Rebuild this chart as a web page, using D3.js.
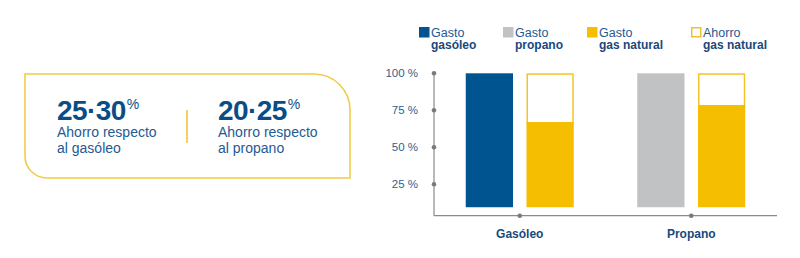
<!DOCTYPE html>
<html>
<head>
<meta charset="utf-8">
<script src="https://cdn.jsdelivr.net/npm/d3@7"></script>
<style>
  body { margin: 0; background: #fff; }
  svg { display: block; font-family: "Liberation Sans", Arial, sans-serif; }
</style>
</head>
<body>
<svg id="chart" width="800" height="258"></svg>
<script>
var categories = ['Gasóleo', 'Propano'];
var fuelCost   = [100, 100];      // gasto gasóleo / gasto propano
var gasCost    = [67, 78.5];      // gasto gas natural
var ticks      = [25, 50, 75, 100];
var savings    = ['25·30', '20·25'];
var savingsTxt = [['Ahorro respecto', 'al gasóleo'], ['Ahorro respecto', 'al propano']];
var legendItems = [
  { top: 'Gasto', bottom: 'gasóleo', kind: 'blue' },
  { top: 'Gasto', bottom: 'propano', kind: 'gray' },
  { top: 'Gasto', bottom: 'gas natural', kind: 'yellow' },
  { top: 'Ahorro', bottom: 'gas natural', kind: 'outline' }
];
var barFloor = 9.5;

var colors = { blue: '#00548f', gray: '#c1c2c4', yellow: '#f6be00', outline: '#fff' };
var textBlue = '#17497c';

var svg = d3.select('#chart');

/* --------- left panel --------- */
var bx = 25, by = 74, bw = 325, bh = 104, rTR = 36, rBL = 22;
svg.append('path')
  .attr('d', 'M' + bx + ',' + by +
    'H' + (bx + bw - rTR) +
    'A' + rTR + ',' + rTR + ' 0 0 1 ' + (bx + bw) + ',' + (by + rTR) +
    'V' + (by + bh) +
    'H' + (bx + rBL) +
    'A' + rBL + ',' + rBL + ' 0 0 1 ' + bx + ',' + (by + bh - rBL) + 'Z')
  .attr('fill', 'none')
  .attr('stroke', '#f1cc4a')
  .attr('stroke-width', 1.6);

svg.append('line')
  .attr('x1', 187).attr('x2', 187).attr('y1', 110).attr('y2', 143)
  .attr('stroke', '#f1c232').attr('stroke-width', 1.5);

var cols = [57, 218];
savings.forEach(function(s, i){
  var t = svg.append('text')
    .attr('x', cols[i]).attr('y', 120)
    .attr('fill', '#0a4d86')
    .attr('font-weight', 'bold')
    .attr('font-size', 28)
    .attr('letter-spacing', -0.6)
    .text(s);
  t.append('tspan')
    .attr('font-size', 14)
    .attr('font-weight', 'normal')
    .attr('dy', -11)
    .attr('dx', 1)
    .text('%');
  savingsTxt[i].forEach(function(line, j){
    svg.append('text')
      .attr('x', cols[i]).attr('y', 137 + j * 16)
      .attr('fill', '#245a93')
      .attr('font-size', 14)
      .text(line);
  });
});

/* --------- scales --------- */
var y = d3.scaleLinear().domain([0, 100]).range([221.3, 73.3]);
var x0 = d3.scaleBand().domain(categories).range([434, 777]);
var x1 = d3.scaleBand().domain(['fuel', 'gas']).range([-54, 54]).paddingInner(0.222);

/* --------- axes --------- */
var axisColor = '#8a8a8a';
var baseY = 215.7;
svg.append('line')
  .attr('x1', 434).attr('x2', 434).attr('y1', y(100)).attr('y2', baseY)
  .attr('stroke', axisColor).attr('stroke-width', 1.2);
svg.append('line')
  .attr('x1', 434).attr('x2', 777).attr('y1', baseY).attr('y2', baseY)
  .attr('stroke', axisColor).attr('stroke-width', 1.2);

svg.selectAll('circle.ytick').data(ticks).enter()
  .append('circle').attr('class', 'ytick')
  .attr('cx', 434).attr('cy', function(d){ return y(d); }).attr('r', 2.3)
  .attr('fill', '#7a7a7a');
svg.selectAll('text.ytick').data(ticks).enter()
  .append('text').attr('class', 'ytick')
  .attr('x', 418).attr('y', function(d){ return y(d) + 4; })
  .attr('text-anchor', 'end')
  .attr('font-size', 11.5)
  .attr('fill', '#2f5f91')
  .text(function(d){ return d + ' %'; });

svg.selectAll('circle.xtick').data(categories).enter()
  .append('circle').attr('class', 'xtick')
  .attr('cx', function(d){ return x0(d) + x0.bandwidth() / 2; }).attr('cy', baseY).attr('r', 2.3)
  .attr('fill', '#7a7a7a');
svg.selectAll('text.xtick').data(categories).enter()
  .append('text').attr('class', 'xtick')
  .attr('x', function(d){ return x0(d) + x0.bandwidth() / 2; }).attr('y', 238)
  .attr('text-anchor', 'middle')
  .attr('font-size', 12).attr('font-weight', 'bold')
  .attr('fill', textBlue)
  .text(function(d){ return d; });

/* --------- bars --------- */
var groups = svg.selectAll('g.group').data(categories).enter()
  .append('g').attr('class', 'group')
  .attr('transform', function(d){ return 'translate(' + (x0(d) + x0.bandwidth() / 2) + ',0)'; });

groups.append('rect')
  .attr('x', x1('fuel')).attr('width', x1.bandwidth())
  .attr('y', function(d, i){ return y(fuelCost[i]); })
  .attr('height', function(d, i){ return y(barFloor) - y(fuelCost[i]); })
  .attr('fill', function(d, i){ return i === 0 ? colors.blue : colors.gray; });

// ahorro outline (full height)
groups.append('rect')
  .attr('x', x1('gas') + 0.75).attr('width', x1.bandwidth() - 1.5)
  .attr('y', y(100) + 0.75)
  .attr('height', function(d, i){ return y(gasCost[i]) - y(100); })
  .attr('fill', 'none').attr('stroke', '#f3c52b').attr('stroke-width', 1.5);

groups.append('rect')
  .attr('x', x1('gas')).attr('width', x1.bandwidth())
  .attr('y', function(d, i){ return y(gasCost[i]); })
  .attr('height', function(d, i){ return y(barFloor) - y(gasCost[i]); })
  .attr('fill', colors.yellow);

/* --------- legend --------- */
var legX = [419, 503, 587, 691];
var leg = svg.selectAll('g.legend').data(legendItems).enter()
  .append('g').attr('class', 'legend')
  .attr('transform', function(d, i){ return 'translate(' + legX[i] + ',27)'; });
leg.append('rect')
  .attr('x', function(d){ return d.kind === 'outline' ? 0.75 : 0; })
  .attr('y', function(d){ return d.kind === 'outline' ? 0.75 : 0; })
  .attr('width', function(d){ return d.kind === 'outline' ? 9 : 10.5; })
  .attr('height', function(d){ return d.kind === 'outline' ? 9 : 10.5; })
  .attr('fill', function(d){ return colors[d.kind]; })
  .attr('stroke', function(d){ return d.kind === 'outline' ? '#f0c030' : 'none'; })
  .attr('stroke-width', 1.5);
leg.append('text')
  .attr('x', 12).attr('y', 9.5)
  .attr('font-size', 12.5).attr('fill', '#245a93')
  .text(function(d){ return d.top; });
leg.append('text')
  .attr('x', 12).attr('y', 22)
  .attr('font-size', 12).attr('font-weight', 'bold').attr('fill', textBlue)
  .text(function(d){ return d.bottom; });
</script>
</body>
</html>
